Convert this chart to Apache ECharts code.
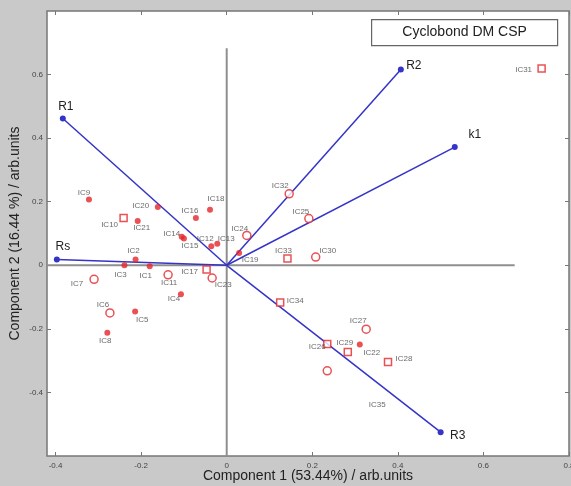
<!DOCTYPE html>
<html><head><meta charset="utf-8">
<script src="https://cdn.jsdelivr.net/npm/echarts@6/dist/echarts.min.js"></script>
<style>html,body{margin:0;padding:0;background:#c9c9c9}#c{width:571px;height:486px}</style>
</head><body><div id="c"></div>
<script>
// ---- data ----
const loadingNames = ['R1', 'Rs', 'R2', 'k1', 'R3'];
const loadingX = [-0.383, -0.397, 0.407, 0.533, 0.500];
const loadingY = [0.462, 0.018, 0.616, 0.372, -0.525];

const scoreNames = ['IC1','IC2','IC3','IC4','IC5','IC6','IC7','IC8','IC9','IC10',
  'IC11','IC12','IC13','IC14','IC15','IC16','IC17','IC18','IC19','IC20',
  'IC21','IC22','IC23','IC24','IC25','IC26','IC27','IC28','IC29','IC30',
  'IC31','IC32','IC33','IC34','IC35'];
const scoreX = [-0.180,-0.213,-0.239,-0.107,-0.214,-0.273,-0.310,-0.279,-0.322,-0.241,
  -0.137,-0.036,-0.022,-0.105,-0.100,-0.072,-0.047,-0.039,0.029,-0.161,
  -0.208,0.311,-0.034,0.047,0.192,0.235,0.326,0.377,0.283,0.208,
  0.736,0.146,0.142,0.125,0.235];
const scoreY = [-0.003,0.018,0.000,-0.091,-0.145,-0.150,-0.044,-0.212,0.207,0.149,
  -0.030,0.060,0.068,0.090,0.084,0.149,-0.013,0.175,0.039,0.183,
  0.139,-0.249,-0.040,0.094,0.147,-0.248,-0.201,-0.304,-0.273,0.026,
  0.619,0.225,0.021,-0.117,-0.332];
const scoreMarker = ['dot','dot','dot','dot','dot','circle','circle','dot','dot','square',
  'circle','dot','dot','dot','dot','dot','square','dot','dot','dot',
  'dot','dot','circle','circle','circle','square','circle','square','square','circle',
  'square','circle','square','square','circle'];

const xTickValues = [-0.4, -0.2, 0, 0.2, 0.4, 0.6, 0.8];
const yTickValues = [-0.4, -0.2, 0, 0.2, 0.4, 0.6];
const xRange = [-0.42, 0.8];
const yRange = [-0.6, 0.8];
const zeroLineXExtent = [-0.42, 0.673];
const zeroLineYExtent = [-0.6, 0.683];

// ---- label placement (pixel offsets, style only) ----
const scoreLabelOffset = {
  IC1:[-4,10], IC2:[-2,-9], IC3:[-4,10], IC4:[-7,5], IC5:[7,8], IC6:[-7,-8], IC7:[-17,5],
  IC8:[-2,8], IC9:[-5,-7], IC10:[-14,7], IC11:[1,8], IC12:[-6,-7], IC13:[9,-5], IC14:[-10,-3],
  IC15:[6,7], IC16:[-6,-7], IC17:[-17,2], IC18:[6,-11], IC19:[11,7], IC20:[-17,-1], IC21:[4,7],
  IC22:[12,8], IC23:[11,7], IC24:[-7,-7], IC25:[-8,-7], IC26:[-10,3], IC27:[-8,-8], IC28:[16,-3],
  IC29:[-3,-9], IC30:[12,-6], IC31:[-18,1], IC32:[-9,-8], IC33:[-4,-8], IC34:[15,-2], IC35:[50,34]
};
const loadingLabelOffset = { R1:[3,-12], Rs:[6,-13], R2:[13,-4], k1:[20,-12], R3:[17,4] };

const RED = '#e3262b';
const BLUE = '#3434c8';
const FONT = '"Liberation Sans", Arial, sans-serif';

const chart = echarts.init(document.getElementById('c'));

const series = [];
// zero reference lines
series.push({
  type: 'line', silent: true, symbol: 'none', z: 1,
  data: [[zeroLineXExtent[0], 0], [zeroLineXExtent[1], 0]],
  lineStyle: { color: '#8f8f8f', width: 2 }
});
series.push({
  type: 'line', silent: true, symbol: 'none', z: 1,
  data: [[0, zeroLineYExtent[0]], [0, zeroLineYExtent[1]]],
  lineStyle: { color: '#8f8f8f', width: 2 }
});
// loadings
loadingNames.forEach((n, i) => {
  series.push({
    type: 'line', z: 3,
    data: [
      { value: [0, 0], symbol: 'none', label: { show: false } },
      { value: [loadingX[i], loadingY[i]], name: n }
    ],
    symbol: 'circle', symbolSize: 6, showSymbol: true,
    itemStyle: { color: BLUE },
    lineStyle: { color: BLUE, width: 1.5 },
    label: {
      show: true, position: 'inside', offset: loadingLabelOffset[n],
      formatter: n, fontSize: 12, color: '#222', fontFamily: FONT
    }
  });
});
// scores
const markerStyle = {
  dot: { symbol: 'circle', symbolSize: 6, itemStyle: { color: RED } },
  circle: { symbol: 'circle', symbolSize: 8, itemStyle: { color: '#fff', borderColor: RED, borderWidth: 1.5 } },
  square: { symbol: 'rect', symbolSize: 7, itemStyle: { color: '#fff', borderColor: RED, borderWidth: 1.5 } }
};
['dot', 'circle', 'square'].forEach(m => {
  const data = [];
  scoreNames.forEach((n, i) => {
    if (scoreMarker[i] !== m) return;
    data.push({ name: n, value: [scoreX[i], scoreY[i]],
      label: { offset: scoreLabelOffset[n] } });
  });
  series.push(Object.assign({
    type: 'scatter', z: 4, data,
    label: { show: true, position: 'inside', formatter: p => p.name,
      fontSize: 8, color: '#444', fontFamily: FONT }
  }, markerStyle[m]));
});

const tickStyle = { inside: true, length: 4, lineStyle: { color: '#777', width: 1 } };

chart.setOption({
  backgroundColor: '#c9c9c9',
  animation: false,
  grid: { left: 47, right: 2, top: 11, bottom: 30, show: true, outerBoundsMode: 'none',
    containLabel: false,
    backgroundColor: '#ffffff', borderColor: '#777', borderWidth: 1.5 },
  xAxis: [{
    type: 'value', min: xRange[0], max: xRange[1], position: 'bottom',
    axisLine: { show: false, onZero: false },
    axisTick: Object.assign({ customValues: xTickValues }, tickStyle),
    axisLabel: { customValues: xTickValues, fontSize: 8, color: '#444', margin: 6, fontFamily: FONT },
    splitLine: { show: false },
    name: 'Component 1 (53.44%) / arb.units', nameLocation: 'middle', nameGap: 13,
    nameMoveOverlap: false,
    nameTextStyle: { fontSize: 14, color: '#222', fontFamily: FONT }
  }, {
    type: 'value', min: xRange[0], max: xRange[1], position: 'top',
    axisLine: { show: false, onZero: false },
    axisTick: Object.assign({ customValues: xTickValues }, tickStyle),
    axisLabel: { show: false }, splitLine: { show: false }
  }],
  yAxis: [{
    type: 'value', min: yRange[0], max: yRange[1], position: 'left',
    axisLine: { show: false, onZero: false },
    axisTick: Object.assign({ customValues: yTickValues }, tickStyle),
    axisLabel: { customValues: yTickValues, fontSize: 8, color: '#444', margin: 4, fontFamily: FONT },
    splitLine: { show: false },
    name: 'Component 2 (16.44 %) / arb.units', nameLocation: 'middle', nameGap: 25,
    nameMoveOverlap: false,
    nameTextStyle: { fontSize: 14, color: '#222', fontFamily: FONT }
  }, {
    type: 'value', min: yRange[0], max: yRange[1], position: 'right',
    axisLine: { show: false, onZero: false },
    axisTick: Object.assign({ customValues: yTickValues }, tickStyle),
    axisLabel: { show: false }, splitLine: { show: false }
  }],
  graphic: [{
    type: 'group', left: 371, top: 19, z: 10,
    children: [
      { type: 'rect', shape: { x: 0, y: 0, width: 186, height: 26 },
        style: { fill: '#fff', stroke: '#666', lineWidth: 1.2 } },
      { type: 'text', x: 93, y: 13,
        style: { text: 'Cyclobond DM CSP', fontSize: 14, fill: '#222', fontFamily: FONT,
          align: 'center', verticalAlign: 'middle' } }
    ]
  }],
  series
});
</script>
</body></html>
